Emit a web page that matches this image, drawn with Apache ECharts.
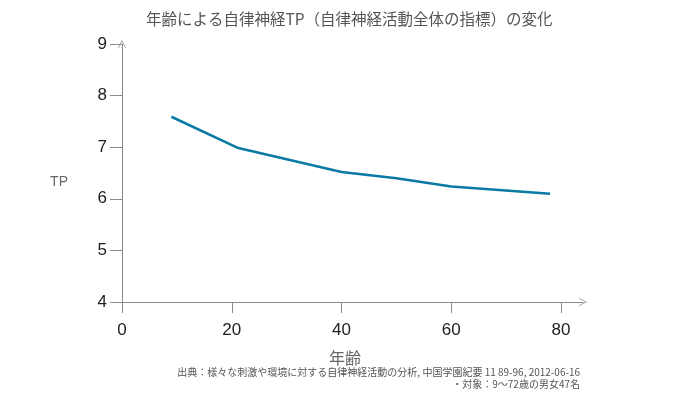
<!DOCTYPE html>
<html>
<head>
<meta charset="utf-8">
<script src="https://cdn.jsdelivr.net/npm/echarts@6/dist/echarts.min.js"></script>
<style>
  html, body { margin: 0; padding: 0; background: #fff; }
  #chart { width: 686px; height: 398px; }
</style>
</head>
<body>
<div id="chart"></div>
<script>
// 年齢ごとの自律神経TP
var ages = [9, 21, 40, 50, 60, 78]
var tpValues = [7.59, 6.99, 6.52, 6.40, 6.24, 6.10]
var xTicks = [0, 20, 40, 60, 80]

var titleText = '年齢による自律神経TP（自律神経活動全体の指標）の変化'
var sourceText = '出典：様々な刺激や環境に対する自律神経活動の分析, 中国学園紀要 11 89-96, 2012-06-16'
var subjectText = '・対象：9〜72歳の男女47名'

var jpFont = '"Noto Sans CJK JP", "Noto Sans", sans-serif'
var numFont = '"Liberation Sans", Roboto, sans-serif'
var axisColor = '#8a8a8a'
// 開いた矢印（V字）
var arrowPath = 'path://M0,10L5,0L10,10L9.1,10L5,1.8L0.9,10Z'

var chart = echarts.init(document.getElementById('chart'))
var option = {
  backgroundColor: '#fff',
  animation: false,
  title: {
    text: titleText,
    left: 141,
    top: 6,
    textStyle: { fontFamily: jpFont, fontSize: 15.5, fontWeight: 'normal', color: '#555' }
  },
  graphic: [
    {
      type: 'text',
      right: 106,
      top: 366,
      style: {
        text: sourceText + '\n' + subjectText,
        textAlign: 'right',
        font: '10px ' + jpFont,
        fill: '#555',
        lineHeight: 12
      }
    }
  ],
  grid: { left: 122, right: 103, top: 44, bottom: 96 },
  xAxis: {
    type: 'value',
    min: 0,
    max: 84,
    interval: 20,
    name: '年齢',
    nameLocation: 'middle',
    nameGap: 48,
    nameTextStyle: { fontFamily: jpFont, fontSize: 16, color: '#666', padding: [0, 15, 0, 0] },
    axisLine: {
      show: true,
      lineStyle: { color: axisColor, width: 1 },
      symbol: ['none', arrowPath],
      symbolSize: [11, 8]
    },
    axisTick: { show: true, length: 11, inside: false, customValues: xTicks, lineStyle: { color: axisColor } },
    axisLabel: { customValues: xTicks, margin: 20, fontFamily: numFont, fontSize: 17, color: '#222' },
    splitLine: { show: false }
  },
  yAxis: {
    type: 'value',
    min: 4,
    max: 9,
    interval: 1,
    name: 'TP',
    nameLocation: 'middle',
    nameRotate: 0,
    nameGap: 54,
    nameTextStyle: { fontFamily: numFont, fontSize: 14, color: '#666', verticalAlign: 'top', padding: [2, 0, 0, 0] },
    axisLine: {
      show: true,
      lineStyle: { color: axisColor, width: 1 },
      symbol: ['none', arrowPath],
      symbolSize: [11, 8]
    },
    axisTick: { show: true, length: 12, lineStyle: { color: axisColor } },
    axisLabel: { margin: 15, fontFamily: numFont, fontSize: 17, color: '#222' },
    splitLine: { show: false }
  },
  series: [
    {
      type: 'line',
      data: ages.map(function (a, i) { return [a, tpValues[i]] }),
      showSymbol: false,
      lineStyle: { color: '#0a79a3', width: 2.5 },
      itemStyle: { color: '#0a79a3' }
    }
  ]
}
chart.setOption(option)
</script>
</body>
</html>
